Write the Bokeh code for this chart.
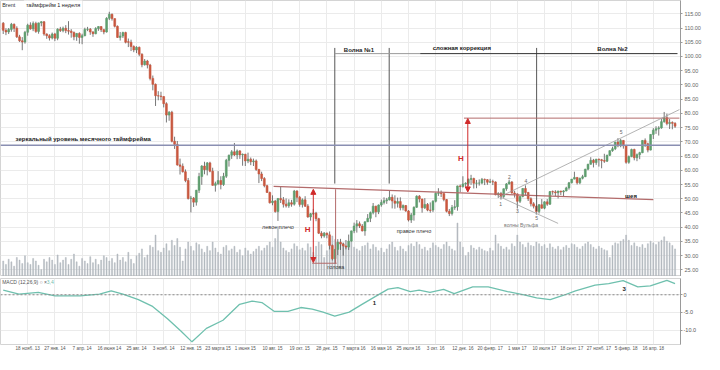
from bokeh.plotting import figure
from bokeh.models import (ColumnDataSource, Range1d, FixedTicker, Label, Span,
                          Arrow, NormalHead, NumeralTickFormatter)
from bokeh.layouts import column
from bokeh.embed import file_html
from bokeh.resources import INLINE

# ---------------- data (weekly Brent, week index 0 = 2 Sep 2013) ----------------
FIRST_WEEK = 2
opens = [111.7,109.2,108.6,109.5,111.3,109.9,106.9,105.5,105.1,108.5,
         111.0,109.7,111.6,108.8,111.8,112.2,107.9,107.3,106.5,107.9,
         106.4,109.6,109.1,109.9,109.1,108.9,108.4,106.9,108.1,106.7,
         107.3,109.5,109.6,108.6,108.0,109.8,110.5,109.4,108.6,113.4,
         114.8,113.3,110.6,106.7,107.2,108.4,105.2,105.0,103.5,102.3,
         103.2,100.8,97.1,98.4,97.0,92.3,90.2,86.2,86.1,85.9,
         83.4,79.4,80.4,70.2,69.1,61.9,61.4,59.5,56.4,50.1,
         50.2,48.8,53.0,57.8,61.5,60.2,62.6,59.7,54.7,55.3,
         56.4,55.0,57.9,63.5,65.3,66.5,65.4,66.8,65.4,65.6,
         63.3,63.9,63.0,63.3,60.3,58.7,57.1,54.6,52.2,48.6,
         49.2,45.5,50.1,49.6,48.1,47.5,48.6,48.1,52.7,50.5,
         48.0,49.6,47.4,43.6,44.7,44.9,43.0,37.9,36.9,37.9,
         37.3,33.6,28.9,32.2,34.7,34.1,33.4,33.0,35.1,38.7,
         40.4,41.2,40.4,38.7,41.9,43.1,45.1,47.4,45.4,47.8,
         48.7,49.3,49.6,50.5,49.2,48.4,49.0,46.8,47.6,45.7,
         42.5,44.3,47.0,50.9,49.9,46.8,48.0,46.0,46.0,49.1,
         51.9,52.0,51.8,49.7,45.6,44.8,46.9,47.2,54.5,54.3,
         55.2,55.4,56.8,57.1,55.45,55.49,55.52,56.8,56.7,55.8,
         56.0,55.9,51.4,51.8,50.8,53.5,55.2,55.9,52.0,51.7,
         49.1,50.8,53.6,52.2,50.0,48.2,47.4,45.5,47.9,46.7,
         48.9,48.1,52.5,52.4,52.1,52.7,52.4,52.75,53.8,55.6,
         56.9,57.5,55.6,57.2,57.75,60.4,62.1,63.5,62.7,63.9,
         63.7,63.4,63.2,65.25,66.9,67.6,69.9,68.6,70.5,68.6,
         62.8,64.8,67.3,64.4,65.5,66.2,70.5,69.3,67.1,72.6,
         74.1,74.6,74.9,77.1,78.5,76.4,76.8,76.5]
highs = [112.1,109.9,110.0,111.8,111.6,110.6,107.6,106.8,109.0,111.5,
         112.0,112.3,112.2,111.9,112.4,112.4,108.1,107.8,108.4,108.3,
         109.9,110.4,110.5,111.0,112.4,109.6,108.8,108.2,108.5,108.0,
         110.1,110.4,110.0,108.9,110.3,110.6,110.6,109.7,113.8,115.7,
         115.1,113.3,110.9,108.6,108.7,108.7,106.3,105.9,103.9,103.6,
         103.5,101.1,99.1,98.8,97.4,93.3,90.5,87.8,87.6,86.0,
         83.9,80.8,80.9,71.8,70.3,64.1,62.4,60.3,57.3,51.0,
         50.6,53.1,59.1,61.8,63.0,62.9,63.0,60.9,56.0,59.7,
         57.9,59.1,64.0,65.5,67.1,69.6,67.3,67.1,65.9,65.8,
         66.2,64.5,64.1,63.8,60.5,59.5,57.6,54.9,52.5,51.2,
         49.6,50.2,54.3,50.6,50.1,49.8,49.6,53.1,53.0,51.0,
         50.1,50.9,48.1,45.0,46.4,45.4,43.3,38.6,38.3,38.1,
         38.5,33.9,32.3,35.8,35.9,34.5,35.5,37.4,38.8,41.6,
         42.5,42.0,41.1,42.0,44.6,45.5,48.5,47.5,48.0,49.7,
         50.5,50.3,52.9,51.5,51.2,50.4,50.5,48.0,47.8,46.0,
         45.0,47.3,51.2,51.3,50.0,50.2,48.5,48.7,49.5,52.2,
         53.7,52.9,51.9,49.9,46.4,47.8,49.5,54.6,55.0,57.9,
         55.8,57.1,58.4,57.4,56.6,56.8,57.3,57.1,56.9,57.0,
         56.7,56.1,52.3,52.4,53.6,55.5,56.7,56.2,52.8,51.9,
         51.0,53.7,54.7,52.4,50.5,48.8,47.6,48.1,49.9,49.1,
         49.9,52.7,52.9,53.0,52.8,52.8,53.0,54.2,55.9,56.9,
         59.5,57.6,57.4,58.4,60.5,62.3,64.6,64.0,64.0,64.1,
         64.0,65.8,65.5,67.0,68.3,70.0,71.3,71.0,70.6,68.8,
         65.2,67.6,67.6,65.9,66.5,70.6,71.2,69.7,72.7,74.8,
         75.5,75.5,78.0,80.5,79.9,78.0,77.2,76.9]
lows = [107.9,107.5,107.9,108.7,108.6,106.5,105.1,102.2,104.5,107.3,
        109.4,108.9,108.3,108.0,110.6,107.3,106.2,105.6,106.0,105.4,
        105.7,108.6,108.5,108.2,107.7,106.6,105.7,105.5,104.5,104.3,
        107.1,108.9,107.6,106.9,107.8,109.0,108.6,107.8,108.4,112.8,
        112.6,110.2,106.5,105.6,106.5,104.6,103.3,101.9,101.5,101.2,
        100.1,96.2,96.8,95.8,91.6,88.1,82.6,84.6,84.6,82.1,
        76.8,77.4,69.8,67.5,61.6,58.5,59.2,55.8,49.7,45.2,
        47.1,47.6,52.0,54.9,58.6,58.2,59.3,54.6,52.5,54.8,
        53.3,54.5,57.3,61.3,64.0,65.0,63.9,64.0,61.6,61.5,
        62.5,61.8,61.5,59.8,55.5,56.2,54.0,52.1,48.3,47.7,
        45.1,42.2,48.5,46.9,46.9,46.8,47.2,47.6,48.8,47.2,
        46.9,47.1,43.3,42.3,44.3,42.1,37.6,36.1,36.3,36.1,
        32.2,28.3,27.1,30.2,32.0,30.0,32.2,32.0,34.9,37.9,
        38.1,39.7,38.5,37.0,41.8,41.8,44.5,43.5,44.6,47.2,
        48.0,48.2,49.4,46.6,46.5,46.9,45.9,45.9,45.4,42.0,
        41.5,42.3,46.8,48.7,45.1,46.4,45.6,45.1,45.3,48.7,
        51.0,50.6,49.1,45.2,43.9,44.1,46.1,45.8,52.3,53.9,
        54.2,54.5,54.9,53.6,53.7,54.6,55.1,54.8,54.9,55.5,
        54.8,51.2,50.3,49.7,50.3,52.8,55.0,51.8,50.4,46.6,
        48.5,50.5,51.1,49.2,47.3,46.6,44.4,44.8,46.5,46.3,
        47.5,47.8,51.4,50.9,50.1,51.3,50.6,52.6,53.2,55.4,
        56.8,55.0,55.1,56.8,57.6,60.0,62.0,61.0,61.9,61.3,
        60.7,62.6,62.9,65.0,66.5,67.1,68.1,68.1,67.6,62.3,
        62.3,64.6,63.5,63.2,63.9,66.0,68.2,66.3,67.0,71.0,
        72.8,72.2,74.6,76.7,75.8,74.5,74.4,74.9]
closes = [109.2,108.6,109.5,111.3,109.9,106.9,105.5,105.1,108.5,111.0,
          109.7,111.6,108.8,111.8,112.2,107.9,107.3,106.5,107.9,106.4,
          109.6,109.1,109.9,109.1,108.9,108.4,106.9,108.1,106.7,107.3,
          109.5,109.6,108.6,108.0,109.8,110.5,109.4,108.6,113.4,114.8,
          113.3,110.6,106.7,107.2,108.4,105.0,105.0,103.5,102.3,103.2,
          100.8,97.1,98.4,97.0,92.3,90.2,86.2,86.1,85.9,83.4,
          79.4,80.4,70.2,69.1,61.9,61.4,59.5,56.4,50.1,50.2,
          48.8,53.0,57.8,61.5,60.2,62.6,59.7,54.7,55.3,56.4,
          55.0,57.9,63.5,65.3,66.5,65.4,66.8,65.4,65.6,63.3,
          63.9,63.0,63.3,60.3,58.7,57.1,54.6,52.2,48.6,49.2,
          45.5,50.1,49.6,48.1,47.5,48.6,48.1,52.7,50.5,48.0,
          49.6,47.4,43.6,44.7,44.9,43.0,37.9,36.9,37.9,37.3,
          33.6,28.9,32.2,34.7,34.1,33.4,33.0,35.1,38.7,40.4,
          41.2,40.4,38.7,41.9,43.1,45.1,47.4,45.4,47.8,48.7,
          49.3,49.6,50.5,49.2,48.4,49.0,46.8,47.6,45.7,42.5,
          44.3,47.0,50.9,49.9,46.8,48.0,46.0,45.9,49.1,51.9,
          52.0,51.8,49.7,45.6,44.8,46.9,47.2,54.5,54.3,55.2,
          55.4,56.8,57.1,55.45,55.49,55.52,56.8,56.7,55.8,56.0,
          55.9,51.4,51.8,50.8,53.5,55.2,55.9,52.0,51.7,49.1,
          50.8,53.6,52.2,50.0,48.2,47.4,45.5,47.9,46.7,48.9,
          48.1,52.5,52.4,52.1,52.7,52.4,52.75,53.8,55.6,56.9,
          57.5,55.6,57.2,57.75,60.4,62.1,63.5,62.7,63.9,63.7,
          63.4,63.2,65.25,66.9,67.6,69.9,68.6,70.5,68.6,62.8,
          64.8,67.3,64.4,65.5,66.2,70.5,69.3,67.1,72.6,74.1,
          74.6,74.9,77.1,78.5,76.4,76.8,76.5,75.5]
volumes = [90,70,100,85,60,110,95,75,120,80,
           70,105,90,65,40,100,85,110,95,70,
           125,80,95,110,70,100,130,85,60,105,
           90,75,115,80,100,70,95,120,110,90,
           105,80,130,95,110,85,140,100,75,120,
           135,160,110,125,180,170,240,150,140,165,
           190,150,210,180,220,170,90,160,200,175,
           150,195,185,160,140,175,150,200,165,140,
           130,170,180,150,160,175,140,155,120,165,
           150,130,145,160,175,150,165,180,200,170,
           220,290,200,165,150,140,160,190,175,155,
           165,150,190,170,140,175,200,185,110,150,
           220,235,215,200,190,195,175,185,200,170,
           160,150,175,180,195,160,185,170,150,165,
           140,160,185,200,170,150,175,160,145,180,
           190,175,200,185,160,170,150,165,195,180,
           170,160,185,200,175,160,150,310,200,170,
           120,140,180,165,155,170,160,150,145,165,
           150,240,190,175,160,170,155,190,175,240,
           200,185,170,195,180,175,200,190,175,185,
           165,190,170,160,175,155,170,180,165,190,
           185,170,160,175,190,200,185,170,160,175,
           165,155,150,110,180,195,190,205,215,240,
           210,180,195,175,170,185,165,190,205,195,
           185,200,210,230,205,195,180,160]
weeks = list(range(FIRST_WEEK, FIRST_WEEK + len(closes)))

macd_week = [2, 7.8, 14.9, 21, 30.3, 37.4, 41.7, 46, 51.7, 56.7,
             62.4, 67.4, 71.4, 76.7, 82.8, 88.9, 93.5, 97.1, 101.7, 106.7,
             111.4, 115.6, 119.6, 123.9, 129.2, 133.9, 138.9, 143.5, 147.1, 151.7,
             154.9, 158.9, 163.9, 167.8, 174.6, 180.3, 187.4, 193.5, 198.1, 203.1,
             207.8, 212.4, 219.6, 224.6, 229.9, 235.3, 239.9, 246, 249]
macd_value = [1.3, 0.2, 0.7, -0.3, -0.3, 0.2, 1.1, 0.2, -1.35, -3.2,
              -6.8, -10.3, -13.3, -9.5, -7.2, -2.7, -1.8, -2.2, -4.7, -4.7,
              -3.6, -4.05, -4.9, -6.0, -4.9, -2.7, -0.45, 1.6, 2.0, 0.9,
              1.3, 0.7, 1.5, 0.35, 2.25, 2.25, 0.9, 0.0, -0.9, -1.35,
              -0.2, 1.1, 2.7, 3.15, 4.0, 2.25, 2.5, 4.05, 3.15]

tick_weeks = [11, 21, 31, 41, 51, 61, 71, 81, 91, 101, 111, 121,
              131, 141, 151, 161, 171, 181, 191, 201, 211, 221, 231, 241]
tick_labels = ["18 нояб. 13", "27 янв. 14", "7 апр. 14", "16 июня 14", "25 авг. 14",
               "3 нояб. 14", "12 янв. 15", "23 марта 15", "1 июня 15", "10 авг. 15",
               "19 окт. 15", "28 дек. 15", "7 марта 16", "16 мая 16", "25 июля 16",
               "3 окт. 16", "12 дек. 16", "20 февр. 17", "1 мая 17", "10 июля 17",
               "18 сент. 17", "27 нояб. 17", "5 февр. 18", "16 апр. 18"]
price_ticks = [25, 30, 35, 40, 45, 50, 55, 60, 65, 70, 75, 80, 85, 90, 95, 100, 105, 110, 115]
macd_ticks = [0, -5, -10]
macd_tick_labels = ["0", "-5.0", "-10.0"]
level_mirror = 68.78
last_price = 75.53
macd_last = "3,4"

# ---------------- styling ----------------
FONT = "Liberation Sans"
UP = "#5e9e6e"
DOWN = "#c9583f"
WICK = "#555555"
VOL = "#b3b9bf"
GRID = "#ebebeb"
RED = "#d02a2a"
BROWN = "#b36b6b"
TEAL = "#6fc0ae"

up_flags = [c >= o for o, c in zip(opens, closes)]
src = ColumnDataSource(dict(
    week=weeks, open=opens, high=highs, low=lows, close=closes, vol=volumes,
    top=[max(o, c) for o, c in zip(opens, closes)],
    bottom=[min(o, c) for o, c in zip(opens, closes)],
    color=[UP if u else DOWN for u in up_flags],
))

xr = Range1d(1.0, 251.0)

p = figure(frame_width=680, frame_height=276, x_range=xr, y_range=Range1d(22.67, 119.67),
           output_backend="svg", toolbar_location=None, x_axis_location=None,
           y_axis_location="right", min_border_left=0, min_border_right=0,
           min_border_top=0, min_border_bottom=0)
p.outline_line_color = "#d4d4d4"
p.xgrid.ticker = FixedTicker(ticks=tick_weeks)
p.ygrid.ticker = FixedTicker(ticks=price_ticks)
p.xgrid.grid_line_color = GRID
p.ygrid.grid_line_color = GRID
ax = p.yaxis[0]
ax.ticker = FixedTicker(ticks=price_ticks)
ax.formatter = NumeralTickFormatter(format="0.00")
ax.major_label_text_font_size = "5.5px"
ax.major_label_text_font = FONT
ax.major_label_text_color = "#666666"
ax.axis_line_color = "#9a9a9a"
ax.major_tick_line_color = "#9a9a9a"
ax.major_tick_out = 2
ax.major_tick_in = 0
ax.minor_tick_out = 0
ax.minor_tick_in = 0
ax.major_label_standoff = 2

# volume (own scale)
p.extra_y_ranges = {"vol": Range1d(0, 1600)}
p.vbar(x="week", top="vol", bottom=0, width=0.36, source=src, y_range_name="vol",
       fill_color=VOL, line_color=VOL, line_width=0.5)

# candles
p.segment(x0="week", y0="low", x1="week", y1="high", source=src, line_color=WICK, line_width=0.8)
p.vbar(x="week", top="top", bottom="bottom", width=0.68, source=src,
       fill_color="color", line_color="color", line_width=0.6)

# ---- annotations ----
def lab(fig, x, y, text, size="6px", color="#222222", bold=False, align="center", **kw):
    fig.add_layout(Label(x=x, y=y, text=text, text_font=FONT, text_font_size=size,
                         text_color=color, text_font_style="bold" if bold else "normal",
                         text_align=align, text_baseline="middle", **kw))

# mirror level
p.add_layout(Span(location=level_mirror, dimension="width", line_color="#8a8fb2", line_width=1.6))
lab(p, 31.4, 71.0, "зеркальный уровень месячного таймфрейма", bold=True)

# neckline
p.line([101.4, 241.0], [54.33, 49.67], line_color=BROWN, line_width=1.2)
lab(p, 232.8, 51.0, "шея", bold=True)

# wave frame lines
p.segment(x0=[123.9, 143.9, 198.1], y0=[103.0, 103.0, 103.0],
          x1=[123.9, 143.9, 198.1], y1=[55.33, 55.33, 45.67], line_color="#444444", line_width=0.9)
p.segment(x0=[123.9], y0=[101.0], x1=[155.3], y1=[101.0], line_color="#9a9a9a", line_width=1.0)
p.segment(x0=[155.3], y0=[101.0], x1=[249.9], y1=[101.0], line_color="#333333", line_width=1.0)
lab(p, 132.8, 102.4, "Волна №1", bold=True)
lab(p, 170.6, 103.0, "сложная коррекция", bold=True)
lab(p, 226.0, 102.6, "Волна №2", bold=True)

# head measurement (left)
p.segment(x0=[124.2, 115.6], y0=[53.33, 27.33], x1=[124.2, 124.6], y1=[27.33, 27.33],
          line_color=BROWN, line_width=1.0)
p.add_layout(Arrow(start=NormalHead(size=5, fill_color=RED, line_color=RED),
                   end=NormalHead(size=5, fill_color=RED, line_color=RED),
                   x_start=116.0, y_start=53.3, x_end=116.0, y_end=27.6,
                   line_color=RED, line_width=1.0))
lab(p, 113.9, 39.3, "H", size="8px", color=RED, bold=True)
lab(p, 103.0, 40.0, "левое плечо", size="5.5px", color="#333333")
lab(p, 153.0, 38.7, "правое плечо", size="5.5px", color="#333333")
lab(p, 124.3, 25.9, "голова", size="5.5px", color="#333333")

# target measurement (right)
p.segment(x0=[171.4], y0=[78.33], x1=[250.6], y1=[78.33], line_color=BROWN, line_width=1.0)
p.add_layout(Arrow(start=NormalHead(size=5, fill_color=RED, line_color=RED),
                   end=NormalHead(size=5, fill_color=RED, line_color=RED),
                   x_start=172.8, y_start=52.4, x_end=172.8, y_end=78.2,
                   line_color=RED, line_width=1.0))
lab(p, 170.3, 64.3, "H", size="8px", color=RED, bold=True)

# Wolfe waves / channel
p.segment(x0=[184.6, 183.9], y0=[50.67, 51.0], x1=[250.6, 206.0], y1=[81.33, 41.33],
          line_color="#a0a0a0", line_width=0.8)
for wx, wy, wt in [(184.9, 48.3, "1"), (188.1, 57.7, "2"), (191.0, 45.7, "3"),
                   (194.2, 56.3, "4"), (198.1, 43.3, "5"), (229.2, 73.3, "5")]:
    lab(p, wx, wy, wt, size="5px", color="#666666")
lab(p, 192.4, 40.7, "волны Вульфа", size="5px", color="#777777")

# header
lab(p, 1.6, 118.2, "Brent", size="5.5px", color="#333333", align="left")
lab(p, 9.6, 118.2, "таймфрейм 1 неделя", size="5.5px", color="#222222", align="left",
    background_fill_color="white", padding=2)

# price boxes on the axis
lab(p, 251.3, last_price, f"{last_price:.2f}", size="5.5px", color="white", align="left",
    background_fill_color="#63aa76", padding=1)
lab(p, 251.3, level_mirror, f"{level_mirror:.2f}", size="5.5px", color="white", align="left",
    background_fill_color="#2347a8", padding=1)

# ---------------- MACD panel ----------------
m = figure(frame_width=680, frame_height=66, x_range=xr, y_range=Range1d(-14.05, 4.6),
           output_backend="svg", toolbar_location=None, y_axis_location="right",
           min_border_left=0, min_border_right=0, min_border_top=2, min_border_bottom=0)
m.outline_line_color = "#d4d4d4"
m.xgrid.ticker = FixedTicker(ticks=tick_weeks)
m.ygrid.ticker = FixedTicker(ticks=macd_ticks)
m.xgrid.grid_line_color = GRID
m.ygrid.grid_line_color = GRID
m.add_layout(Span(location=0, dimension="width", line_color="#8a8a8a", line_dash="2 2", line_width=1))
m.line(macd_week, macd_value, line_color=TEAL, line_width=1.3)

my = m.yaxis[0]
my.ticker = FixedTicker(ticks=macd_ticks)
my.major_label_overrides = dict(zip(macd_ticks, macd_tick_labels))
mx = m.xaxis[0]
mx.ticker = FixedTicker(ticks=tick_weeks)
mx.major_label_overrides = dict(zip(tick_weeks, tick_labels))
for a in (my, mx):
    a.major_label_text_font = FONT
    a.major_label_text_color = "#555555"
    a.axis_line_color = "#9a9a9a"
    a.major_tick_line_color = "#9a9a9a"
    a.major_tick_out = 2
    a.major_tick_in = 0
    a.minor_tick_out = 0
    a.minor_tick_in = 0
    a.major_label_standoff = 1
my.major_label_text_font_size = "5.5px"
mx.major_label_text_font_size = "4.6px"
mx.major_tick_out = 0
mx.axis_line_color = None

lab(m, 1.6, 3.6, "MACD (12,26,9)  ○  ×", size="5px", color="#555555", align="left")
lab(m, 18.0, 3.6, macd_last, size="5px", color=TEAL, align="left")
lab(m, 138.5, -2.4, "1", size="6px", color="#222222", bold=True)
lab(m, 230.3, 1.6, "3", size="6px", color="#222222", bold=True)

layout = column(p, m, spacing=0)
open("out.html", "w").write(file_html(layout, INLINE))
